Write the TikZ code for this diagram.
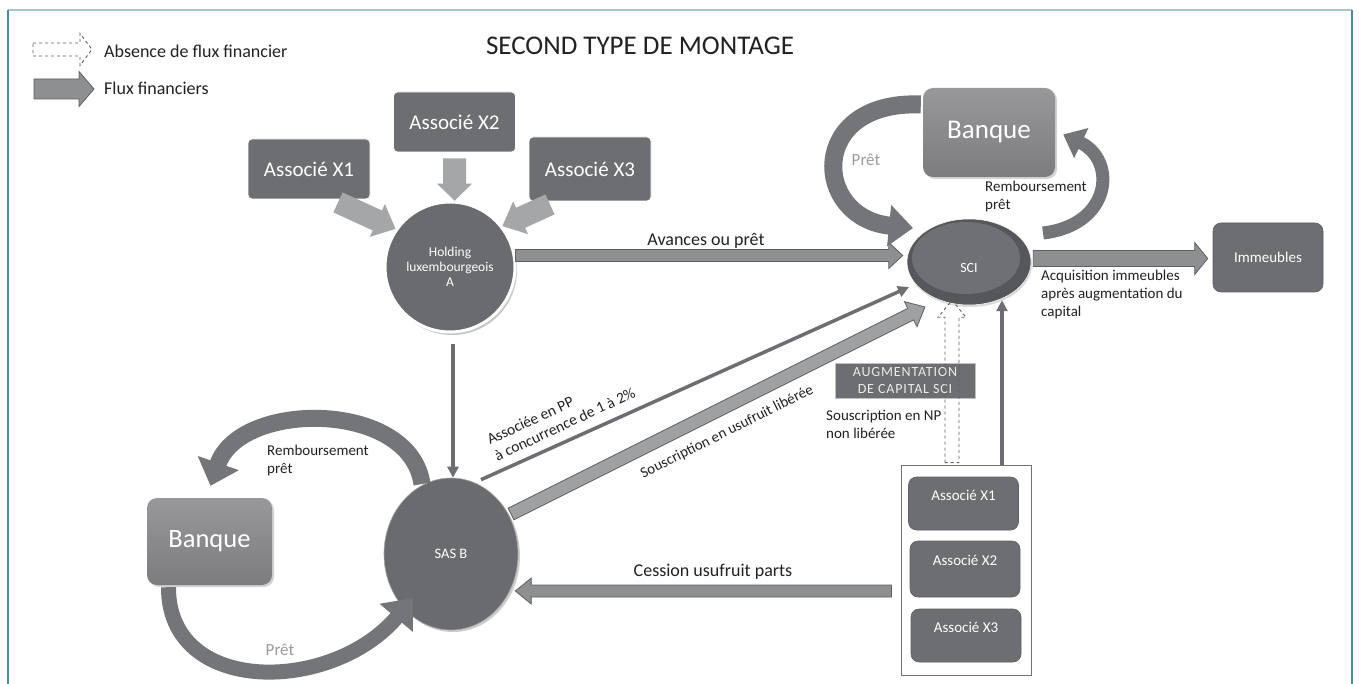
\documentclass[tikz,border=0pt]{standalone}
\usepackage{fontspec}
\setmainfont{Carlito}
\usetikzlibrary{shapes.geometric,arrows.meta,calc,shadows}
\definecolor{boxdark}{HTML}{6D6E71}
\definecolor{circdark}{HTML}{6A6B6E}
\definecolor{scirim}{HTML}{56575A}
\definecolor{sciin}{HTML}{6F7073}
\definecolor{lightarr}{HTML}{A5A6A8}
\definecolor{medarr}{HTML}{8E8F91}
\definecolor{medline}{HTML}{5E5F61}
\definecolor{curveg}{HTML}{747578}
\definecolor{txtdark}{HTML}{222222}
\definecolor{pretgray}{HTML}{9C9C9C}
\definecolor{frameleft}{HTML}{4D8AA6}
\definecolor{frametop}{HTML}{A9C5D3}
\definecolor{bankTop}{HTML}{98989A}
\definecolor{bankBot}{HTML}{7C7C7E}
\newcommand\blockarr[6]{%
  \coordinate (ba-s) at #2;
  \coordinate (ba-e) at #3;
  \coordinate (ba-h) at ($#3!#6!#2$);
  \path[#1] ($(ba-s)!#4!90:(ba-e)$) -- ($(ba-h)!#4!-90:(ba-s)$) -- ($(ba-h)!#5!-90:(ba-s)$) -- (ba-e) -- ($(ba-h)!#5!90:(ba-s)$) -- ($(ba-h)!#4!90:(ba-s)$) -- ($(ba-s)!#4!-90:(ba-e)$) -- cycle;
}
\tikzset{
  assoc/.style={rectangle, rounded corners=4pt, fill=boxdark, draw=white, line width=0.8pt, text=white, font=\fontsize{21}{24}\selectfont, minimum width=122pt, minimum height=60pt, inner sep=0pt},
  smallassoc/.style={rectangle, rounded corners=8pt, fill=boxdark, draw=medline, line width=0.6pt, text=white, font=\fontsize{15}{18}\selectfont, minimum width=110pt, inner sep=0pt, text height=11pt, text depth=18pt},
  bank/.style={rectangle, rounded corners=10pt, top color=bankTop, bottom color=bankBot, draw=none, text=white, drop shadow={shadow xshift=2pt, shadow yshift=-2pt, opacity=.35}, inner sep=0pt},
  lbl/.style={text=txtdark, inner sep=0pt, font=\fontsize{15}{18}\selectfont},
  biglbl/.style={text=txtdark, inner sep=0pt, font=\fontsize{18}{21}\selectfont},
  pretlbl/.style={text=pretgray, inner sep=0pt, font=\fontsize{17}{20}\selectfont},
  lightblock/.style={fill=lightarr},
  medblock/.style={fill=medarr, draw=medline, line width=0.8pt},
  soublock/.style={fill=medarr!85!white, draw=medline, line width=0.8pt},
  dashblock/.style={draw=medline, dashed, line width=0.9pt},
  thinarr/.style={draw=boxdark, line width=3.5pt, -{Triangle[length=11pt,width=11pt]}},
  curvearr/.style={draw=curveg, line width=#1},
}
\begin{document}
\begin{tikzpicture}[x=1pt,y=-1pt]
\useasboundingbox (0,0) rectangle (1359,684);
\fill[white] (0,0) rectangle (1359,684);
% frame
\draw[frametop, line width=2pt] (8,10) -- (1352,10);
\draw[frameleft, line width=2pt] (8,684) -- (8,10);
\draw[frameleft, line width=2pt] (1352,10) -- (1352,684);

% title and legend
\node[text=txtdark, inner sep=0pt, font=\fontsize{27}{30}\selectfont] (title) at (640,46) {SECOND TYPE DE MONTAGE};
\coordinate (lg1s) at (33,49.5);
\coordinate (lg1e) at (92,49.5);
\blockarr{dashblock}{(lg1s)}{(lg1e)}{6.5pt}{16pt}{12pt}
\coordinate (lg2s) at (34,89);
\coordinate (lg2e) at (94,89);
\blockarr{medblock}{(lg2s)}{(lg2e)}{10pt}{17.5pt}{15pt}
\node[biglbl, anchor=west] (lgt1) at (104,51) {Absence de flux financier};
\node[biglbl, anchor=west] (lgt2) at (104,88) {Flux financiers};

% nodes
\node[assoc] (a1) at (309,169) {Associé X1};
\node[assoc] (a2) at (454.5,122) {Associé X2};
\node[assoc, minimum height=64pt] (a3) at (590,169) {Associé X3};
\node[circle, fill=circdark, draw=white, line width=3pt, minimum size=130pt, inner sep=0pt, text=white, align=center, font=\fontsize{13.5}{15}\selectfont, drop shadow={shadow xshift=2pt, shadow yshift=-3pt, opacity=.45}] (holding) at (450,267) {Holding\\luxembourgeois\\A};
\node[ellipse, fill=scirim, draw=white, line width=0.5pt, minimum width=124pt, minimum height=86pt, inner sep=0pt, text=white, font=\fontsize{14}{16}\selectfont, text height=22pt, text depth=0pt,
  path picture={\fill[sciin] ($(path picture bounding box.center)+(-3,-4)$) ellipse [x radius=54pt, y radius=36pt];},
  drop shadow={shadow xshift=1pt, shadow yshift=-2pt, opacity=.3}] (sci) at (969,262) {SCI};
\node[bank, minimum width=132pt, minimum height=89pt, font=\fontsize{27}{30}\selectfont] (banqueT) at (989,132.5) {Banque};
\node[rectangle, rounded corners=8pt, fill=boxdark, draw=medline, line width=0.6pt, minimum width=110pt, minimum height=69pt, inner sep=0pt, text=white, font=\fontsize{15}{18}\selectfont] (immeubles) at (1268,257.5) {Immeubles};
\node[ellipse, fill=circdark, draw=black!35, line width=0.6pt, minimum width=134pt, minimum height=152pt, inner sep=0pt, text=white, font=\fontsize{14.5}{17}\selectfont, drop shadow={shadow xshift=2pt, shadow yshift=-2pt, opacity=.4}] (sasb) at (451,554) {SAS B};
\node[bank, minimum width=125pt, minimum height=87pt, font=\fontsize{26.5}{30}\selectfont] (banqueL) at (209.5,541.5) {Banque};
\node[rectangle, fill=boxdark, draw=black!25, line width=0.8pt, minimum width=140pt, minimum height=35pt, inner sep=0pt, text=white!92!black, align=center, font=\fontsize{14}{17.5}\selectfont\addfontfeature{LetterSpace=6}] (aug) at (905,380.5) {AUGMENTATION\\DE CAPITAL SCI};
\node[rectangle, draw=black!55, line width=0.9pt, fill=white, minimum width=130pt, minimum height=210pt, inner sep=0pt] (bigbox) at (966,570) {};
\node[smallassoc, minimum height=53pt] (ix1) at (963.5,503.5) {Associé X1};
\node[smallassoc, minimum height=56pt] (ix2) at (965,569) {Associé X2};
\node[smallassoc, minimum height=53pt] (ix3) at (966,635.5) {Associé X3};

% associates -> holding
\blockarr{lightblock}{($(a1.south)+(29,3)$)}{(holding.145)}{11pt}{18pt}{20pt}
\blockarr{lightblock}{($(a2.south)+(0,6)$)}{(holding.86)}{11.5pt}{17.5pt}{17pt}
\blockarr{lightblock}{($(a3.south)+(-40,3)$)}{(holding.38)}{11pt}{18pt}{20pt}

% straight flows
\blockarr{medblock}{(holding.10)}{($(sci.west |- holding.10)+(-4,0)$)}{6pt}{13pt}{14pt}
\blockarr{medblock}{($(sci.east |- immeubles.west)+(2,1)$)}{($(immeubles.west)+(-5,1)$)}{8pt}{16pt}{13pt}
\blockarr{medblock}{($(bigbox.west)+(-9,21)$)}{($(sasb.east)+(-3,37)$)}{6pt}{13pt}{16pt}
\blockarr{soublock}{($(sasb.center)+(60,-40)$)}{($(sci.center)+(-44,45)$)}{6.5pt}{14pt}{16pt}
\draw[thinarr] ($(sasb.north)+(30,2)$) -- ($(sci.center)+(-60,25)$);
\draw[thinarr] ($(holding.south)+(3,10)$) -- ($(sasb.north)+(2,0)$);
\draw[thinarr] ($(bigbox.north)+(36,0)$) -- ($(sci.south)+(33,-5)$);
\blockarr{dashblock}{($(bigbox.north)+(-14,-2)$)}{($(sci.south)+(-17,-5)$)}{7pt}{14pt}{17pt}

% curved flows
\draw[curvearr=18pt, -{Triangle[length=24pt,width=40pt]}] ($(banqueT.west)+(-2,-28)$) .. controls (807,100) and (812,218) .. ($(sci.center)+(-56,-34)$);
\draw[curvearr=13pt, -{Triangle[length=20pt,width=32pt]}] ($(sci.center)+(74,-29)$) .. controls (1112,225) and (1117,160) .. ($(banqueT.east)+(8,2)$);
\draw[curvearr=17pt, -{Triangle[length=24pt,width=42pt]}] ($(sasb.center)+(-29,-70)$) .. controls (410,400) and (240,400) .. ($(banqueL.north)+(1,-12)$);
\draw[curvearr=15pt, -{Triangle[length=26pt,width=42pt]}] ($(banqueL.south)+(-41,2)$) .. controls (168,696) and (332,694) .. ($(sasb.center)+(-38,44)$);

% labels
\node[biglbl] (lavances) at (706,241) {Avances ou prêt};
\node[lbl, anchor=north west, align=left] (lacq) at (1041,270) {Acquisition immeubles\\après augmentation du\\capital};
\node[lbl, anchor=north west, align=left] (lrembT) at (985,181) {Remboursement\\prêt};
\node[pretlbl] (lpretT) at (866,160) {Prêt};
\node[lbl, anchor=north west, align=left] (lrembL) at (267,445) {Remboursement\\prêt};
\node[pretlbl] (lpretL) at (280,650) {Prêt};
\node[biglbl] (lcession) at (713,572) {Cession usufruit parts};
\node[lbl, anchor=north west, align=left] (lnp) at (826,410) {Souscription en NP\\non libérée};
\node[lbl, rotate=25, align=left, font=\fontsize{15.5}{18}\selectfont] (lpp) at (561,416) {Associée en PP\\à concurrence de 1 à 2\%};
\node[lbl, rotate=26.5] (lusu) at (727,432) {Souscription en usufruit libérée};
\end{tikzpicture}
\end{document}
